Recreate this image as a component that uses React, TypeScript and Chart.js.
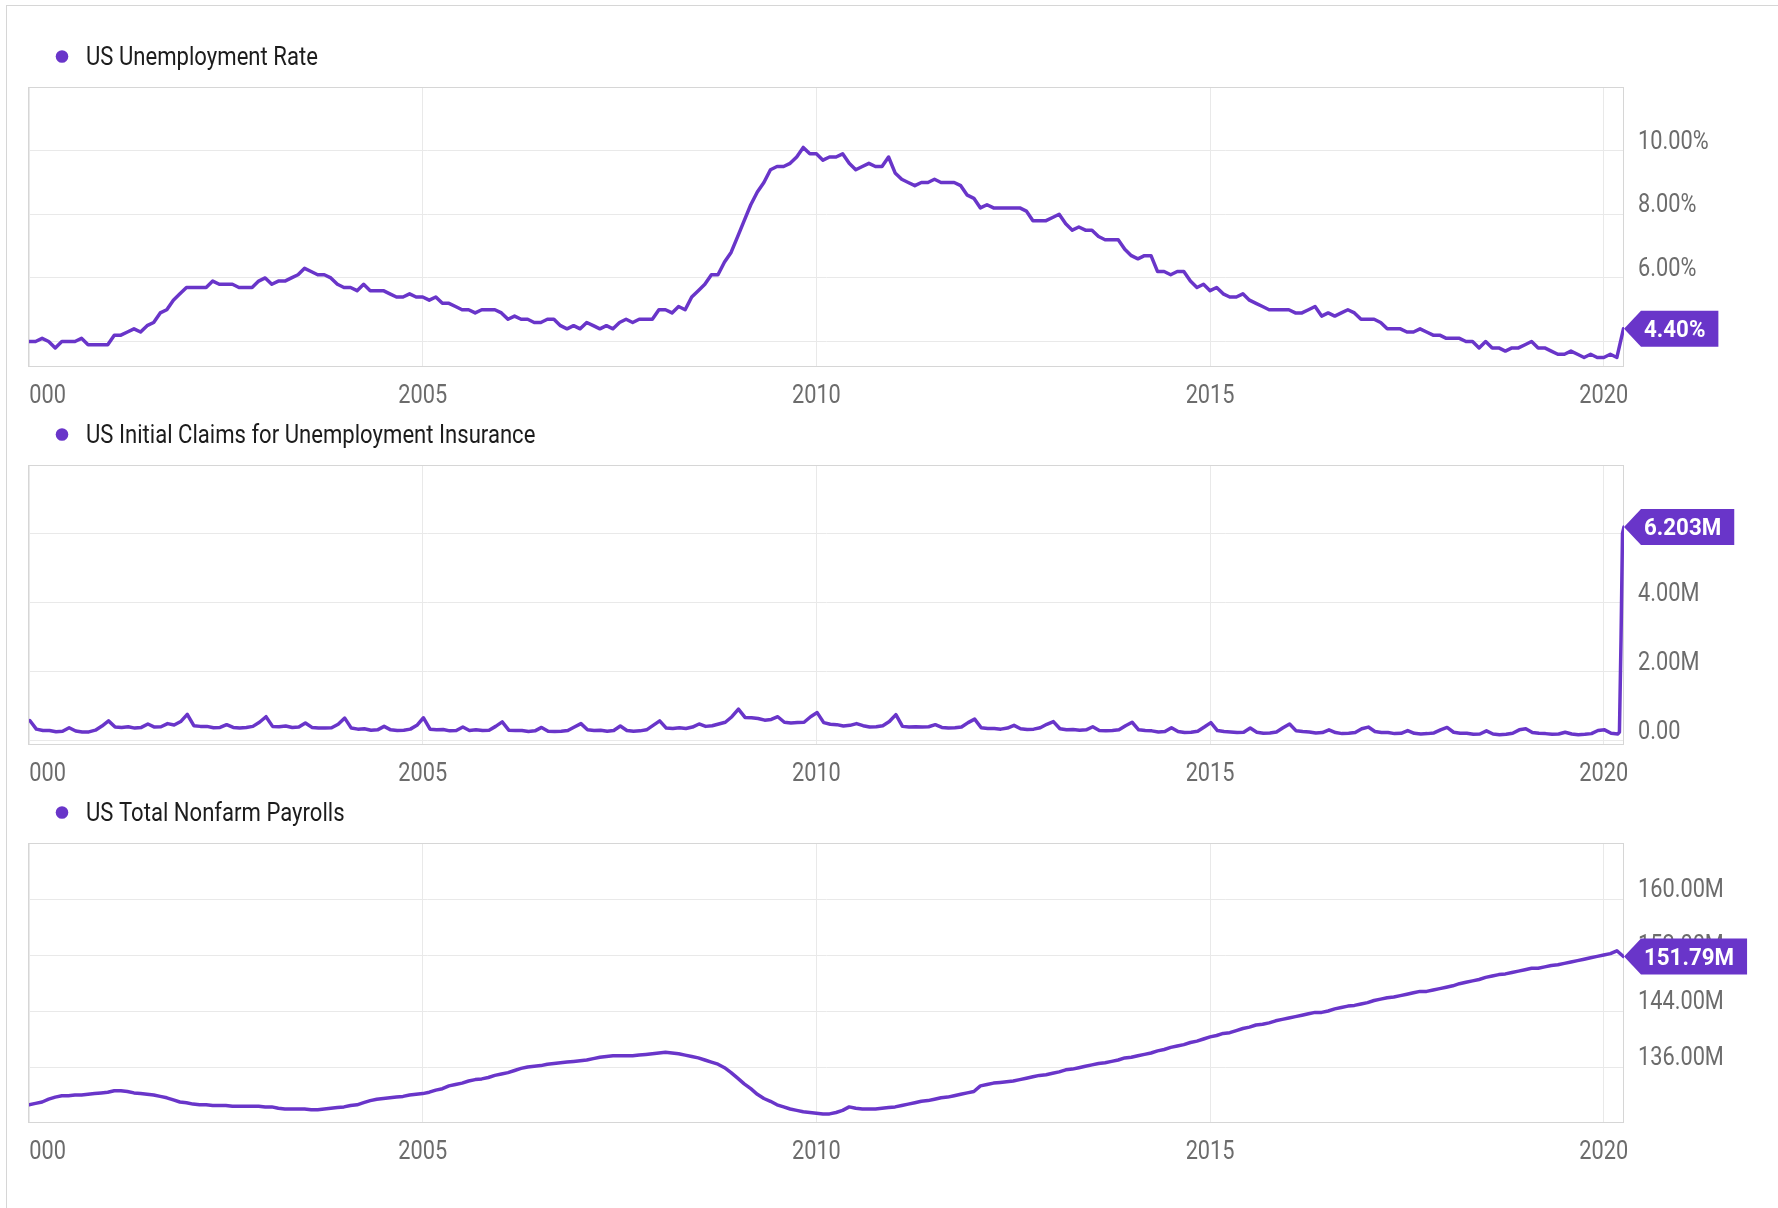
import React, { useEffect, useRef } from "react";
import { Chart, registerables } from "chart.js";

Chart.register(...registerables);

// ---------------- data ----------------
const xTickYears = [2000, 2005, 2010, 2015, 2020];
const xTickLabels = ["2000", "2005", "2010", "2015", "2020"];

const unemploymentName = "US Unemployment Rate";
// monthly, Dec 1999 ... Mar 2020 (%)
const unemploymentRate = [
  4.0,
  4.0, 4.1, 4.0, 3.8, 4.0, 4.0, 4.0, 4.1, 3.9, 3.9, 3.9, 3.9,
  4.2, 4.2, 4.3, 4.4, 4.3, 4.5, 4.6, 4.9, 5.0, 5.3, 5.5, 5.7,
  5.7, 5.7, 5.7, 5.9, 5.8, 5.8, 5.8, 5.7, 5.7, 5.7, 5.9, 6.0,
  5.8, 5.9, 5.9, 6.0, 6.1, 6.3, 6.2, 6.1, 6.1, 6.0, 5.8, 5.7,
  5.7, 5.6, 5.8, 5.6, 5.6, 5.6, 5.5, 5.4, 5.4, 5.5, 5.4, 5.4,
  5.3, 5.4, 5.2, 5.2, 5.1, 5.0, 5.0, 4.9, 5.0, 5.0, 5.0, 4.9,
  4.7, 4.8, 4.7, 4.7, 4.6, 4.6, 4.7, 4.7, 4.5, 4.4, 4.5, 4.4,
  4.6, 4.5, 4.4, 4.5, 4.4, 4.6, 4.7, 4.6, 4.7, 4.7, 4.7, 5.0,
  5.0, 4.9, 5.1, 5.0, 5.4, 5.6, 5.8, 6.1, 6.1, 6.5, 6.8, 7.3,
  7.8, 8.3, 8.7, 9.0, 9.4, 9.5, 9.5, 9.6, 9.8, 10.1, 9.9, 9.9,
  9.7, 9.8, 9.8, 9.9, 9.6, 9.4, 9.5, 9.6, 9.5, 9.5, 9.8, 9.3,
  9.1, 9.0, 8.9, 9.0, 9.0, 9.1, 9.0, 9.0, 9.0, 8.9, 8.6, 8.5,
  8.2, 8.3, 8.2, 8.2, 8.2, 8.2, 8.2, 8.1, 7.8, 7.8, 7.8, 7.9,
  8.0, 7.7, 7.5, 7.6, 7.5, 7.5, 7.3, 7.2, 7.2, 7.2, 6.9, 6.7,
  6.6, 6.7, 6.7, 6.2, 6.2, 6.1, 6.2, 6.2, 5.9, 5.7, 5.8, 5.6,
  5.7, 5.5, 5.4, 5.4, 5.5, 5.3, 5.2, 5.1, 5.0, 5.0, 5.0, 5.0,
  4.9, 4.9, 5.0, 5.1, 4.8, 4.9, 4.8, 4.9, 5.0, 4.9, 4.7, 4.7,
  4.7, 4.6, 4.4, 4.4, 4.4, 4.3, 4.3, 4.4, 4.3, 4.2, 4.2, 4.1,
  4.1, 4.1, 4.0, 4.0, 3.8, 4.0, 3.8, 3.8, 3.7, 3.8, 3.8, 3.9,
  4.0, 3.8, 3.8, 3.7, 3.6, 3.6, 3.7, 3.6, 3.5, 3.6, 3.5, 3.5,
  3.6, 3.5, 4.4,
];
const unemploymentTicks = [4, 6, 8, 10];
const unemploymentTickLabels = ["4.00%", "6.00%", "8.00%", "10.00%"];
const unemploymentLastLabel = "4.40%";
const unemploymentRange = [3.2, 12];

const claimsName = "US Initial Claims for Unemployment Insurance";
// monthly representative weekly level (thousands), Jan 2000 ... Feb 2020
const claimsMonthly = [
  590, 340, 300, 300, 265, 280, 380, 285, 255, 260, 310, 430,
  580, 400, 390, 410, 370, 390, 490, 400, 410, 500, 460, 560,
  770, 440, 420, 420, 380, 390, 470, 390, 370, 390, 420, 540,
  700, 420, 410, 430, 390, 400, 520, 390, 370, 370, 380, 480,
  660, 370, 340, 350, 310, 320, 420, 320, 300, 310, 340, 450,
  670, 340, 320, 330, 290, 300, 400, 300, 320, 300, 310, 420,
  550, 310, 300, 300, 270, 290, 390, 280, 270, 280, 300, 400,
  500, 320, 300, 310, 280, 300, 430, 300, 280, 290, 320, 450,
  580, 370, 360, 380, 360, 400, 490, 420, 440, 490, 540, 700,
  920, 680, 670, 650, 600, 620, 700, 540, 520, 530, 540, 700,
  820, 530, 480, 470, 430, 450, 500, 440, 400, 410, 440, 560,
  760, 420, 400, 410, 400, 410, 470, 390, 370, 380, 400, 530,
  630, 380, 360, 360, 340, 370, 450, 350, 330, 340, 380, 480,
  560, 350, 320, 330, 310, 320, 410, 300, 290, 300, 320, 440,
  540, 320, 300, 290, 260, 270, 380, 270, 240, 250, 280, 400,
  530, 300, 270, 260, 240, 250, 370, 250, 220, 230, 260, 380,
  490, 290, 270, 260, 230, 240, 320, 240, 210, 220, 240, 350,
  400, 270, 240, 240, 210, 220, 300, 220, 200, 210, 230, 320,
  390, 250, 220, 220, 190, 200, 290, 200, 180, 190, 220, 320,
  350, 240, 220, 210, 190, 200, 250, 200, 180, 190, 210, 300,
  320, 220,
];
// final weekly readings, weeks ending Mar 7 ... Apr 4 2020
const claimsFinalWeekDates = [2020.18, 2020.199, 2020.219, 2020.238, 2020.257];
const claimsFinalWeeks = [200, 251, 2920, 6015, 6203];
const claimsTicks = [0, 2, 4, 6];
const claimsTickLabels = ["0.00", "2.00M", "4.00M", "6.00M"];
const claimsLastLabel = "6.203M";
const claimsRange = [-0.12, 8];

const payrollsName = "US Total Nonfarm Payrolls";
// monthly, Dec 1999 ... Mar 2020 (millions)
const payrolls = [
  130.6,
  130.8, 131.0, 131.4, 131.7, 131.9, 131.9, 132.0, 132.0, 132.1, 132.2, 132.3, 132.4,
  132.6, 132.6, 132.5, 132.3, 132.2, 132.1, 132.0, 131.8, 131.6, 131.3, 131.0, 130.9,
  130.7, 130.6, 130.6, 130.5, 130.5, 130.5, 130.4, 130.4, 130.4, 130.4, 130.4, 130.3,
  130.3, 130.1, 130.0, 130.0, 130.0, 130.0, 129.9, 129.9, 130.0, 130.1, 130.2, 130.3,
  130.5, 130.6, 130.9, 131.2, 131.4, 131.5, 131.6, 131.7, 131.8, 132.0, 132.1, 132.2,
  132.4, 132.7, 132.9, 133.3, 133.5, 133.7, 134.0, 134.2, 134.3, 134.5, 134.8, 135.0,
  135.2, 135.5, 135.8, 136.0, 136.1, 136.2, 136.4, 136.5, 136.6, 136.7, 136.8, 136.9,
  137.0, 137.2, 137.4, 137.5, 137.6, 137.6, 137.6, 137.6, 137.7, 137.8, 137.9, 138.0,
  138.1, 138.0, 137.9, 137.7, 137.5, 137.3, 137.0, 136.7, 136.4, 135.9, 135.2, 134.4,
  133.6, 132.9, 132.1, 131.5, 131.1, 130.6, 130.3, 130.0, 129.8, 129.6, 129.5, 129.4,
  129.3, 129.3, 129.5, 129.8, 130.3, 130.1, 130.0, 130.0, 130.0, 130.1, 130.2, 130.3,
  130.5, 130.7, 130.9, 131.1, 131.2, 131.4, 131.6, 131.7, 131.9, 132.1, 132.3, 132.5,
  133.3, 133.5, 133.7, 133.8, 133.9, 134.0, 134.2, 134.4, 134.6, 134.8, 134.9, 135.1,
  135.3, 135.6, 135.7, 135.9, 136.1, 136.3, 136.5, 136.6, 136.8, 137.0, 137.3, 137.4,
  137.6, 137.8, 138.0, 138.3, 138.5, 138.8, 139.0, 139.2, 139.5, 139.7, 140.0, 140.3,
  140.5, 140.8, 140.9, 141.2, 141.5, 141.7, 142.0, 142.1, 142.3, 142.6, 142.8, 143.0,
  143.2, 143.4, 143.6, 143.8, 143.8, 144.0, 144.3, 144.5, 144.7, 144.8, 145.0, 145.2,
  145.5, 145.7, 145.9, 146.0, 146.2, 146.4, 146.6, 146.8, 146.8, 147.0, 147.2, 147.4,
  147.6, 147.9, 148.1, 148.3, 148.5, 148.8, 149.0, 149.2, 149.3, 149.5, 149.7, 149.9,
  150.1, 150.1, 150.3, 150.5, 150.6, 150.8, 151.0, 151.2, 151.4, 151.6, 151.8, 152.0,
  152.2, 152.6, 151.79,
];
const payrollsTicks = [136, 144, 152, 160];
const payrollsTickLabels = ["136.00M", "144.00M", "152.00M", "160.00M"];
const payrollsLastLabel = "151.79M";
const payrollsRange = [128, 168];

// ---------------- styling ----------------
const PURPLE = "#6935c9";
const GRID = "#e9e9e9";
const FRAME = "#d6d6d6";
const FONT = "Roboto, 'Noto Sans', sans-serif";
const SX = 0.87;
const SX_LEGEND = 0.85;
const SX_BADGE = 0.93;
const W = 1778;
const H = 430;
const PLOT_LEFT = 29;
const PLOT_TOP = 87;
const PLOT_RIGHT = 1624;
const PLOT_BOTTOM = 367;

const monthlyX = (n: number) => Array.from({ length: n }, (_, i) => 2000 + i / 12);
const X_MIN = 2000;
const X_MAX = claimsFinalWeekDates[claimsFinalWeekDates.length - 1];

type Spec = {
  name: string;
  xs: number[];
  ys: number[];
  range: number[];
  ticks: number[];
  tickLabels: string[];
  lastLabel: string;
};

const specs: Spec[] = [
  {
    name: unemploymentName,
    xs: monthlyX(unemploymentRate.length),
    ys: unemploymentRate,
    range: unemploymentRange,
    ticks: unemploymentTicks,
    tickLabels: unemploymentTickLabels,
    lastLabel: unemploymentLastLabel,
  },
  {
    name: claimsName,
    xs: [...claimsMonthly.map((_, i) => 2000 + i / 12 + 0.01), ...claimsFinalWeekDates],
    ys: [...claimsMonthly, ...claimsFinalWeeks].map((v) => v / 1000),
    range: claimsRange,
    ticks: claimsTicks,
    tickLabels: claimsTickLabels,
    lastLabel: claimsLastLabel,
  },
  {
    name: payrollsName,
    xs: monthlyX(payrolls.length),
    ys: payrolls,
    range: payrollsRange,
    ticks: payrollsTicks,
    tickLabels: payrollsTickLabels,
    lastLabel: payrollsLastLabel,
  },
];

function drawText(
  ctx: CanvasRenderingContext2D,
  text: string,
  x: number,
  y: number,
  font: string,
  color: string,
  align: "left" | "center",
  sx = SX
) {
  ctx.save();
  ctx.font = font;
  ctx.fillStyle = color;
  ctx.textBaseline = "alphabetic";
  ctx.textAlign = "left";
  const w = ctx.measureText(text).width * sx;
  const left = align === "center" ? x - w / 2 : x;
  ctx.translate(left, y);
  ctx.scale(sx, 1);
  ctx.fillText(text, 0, 0);
  ctx.restore();
  return w;
}

function decor(spec: Spec) {
  return {
    id: "decor",
    beforeDatasetsDraw(chart: any) {
      const { ctx, chartArea: a } = chart;
      ctx.save();
      ctx.strokeStyle = FRAME;
      ctx.lineWidth = 1;
      const x1 = a.left - 0.5, x2 = a.right - 0.5, y1 = a.top + 0.5, y2 = a.bottom - 0.5;
      ctx.strokeRect(x1, y1, x2 - x1, y2 - y1);
      ctx.restore();
    },
    afterDraw(chart: any) {
      const { ctx, chartArea: a, scales } = chart;
      const xs = scales.x;
      const ys = scales.y;
      // legend
      ctx.save();
      ctx.fillStyle = PURPLE;
      ctx.beginPath();
      ctx.arc(62, a.top - 30.5, 6.3, 0, Math.PI * 2);
      ctx.fill();
      ctx.restore();
      drawText(ctx, spec.name, 86, a.top - 22, `26px ${FONT}`, "#1c1c1c", "left", SX_LEGEND);
      // x labels
      xTickYears.forEach((v, i) => {
        const px = xs.getPixelForValue(v);
        ctx.save();
        ctx.beginPath();
        ctx.rect(a.left, 0, chart.width - a.left, chart.height);
        ctx.clip();
        drawText(ctx, xTickLabels[i], i === 0 ? px + 12.5 : px, a.bottom + 36, `25px ${FONT}`, "#6c6c6c", "center");
        ctx.restore();
      });
      // y labels
      spec.ticks.forEach((v, i) => {
        const py = ys.getPixelForValue(v);
        drawText(ctx, spec.tickLabels[i], a.right + 14, py - 2, `25px ${FONT}`, "#6c6c6c", "left");
      });
      // last value badge
      const lastY = ys.getPixelForValue(spec.ys[spec.ys.length - 1]);
      const tipX = a.right;
      const bf = `bold 24px ${FONT}`;
      ctx.save();
      ctx.font = bf;
      const tw = ctx.measureText(spec.lastLabel).width * SX_BADGE;
      ctx.restore();
      const bodyL = tipX + 17;
      const bodyR = tipX + 20 + tw + 13;
      ctx.save();
      ctx.fillStyle = PURPLE;
      ctx.beginPath();
      ctx.moveTo(tipX, lastY);
      ctx.lineTo(bodyL, lastY - 18);
      ctx.lineTo(bodyR, lastY - 18);
      ctx.lineTo(bodyR, lastY + 18);
      ctx.lineTo(bodyL, lastY + 18);
      ctx.closePath();
      ctx.fill();
      ctx.restore();
      drawText(ctx, spec.lastLabel, tipX + 20, lastY + 8.5, bf, "#ffffff", "left", SX_BADGE);
    },
  };
}

function Panel({ spec, top }: { spec: Spec; top: number }) {
  const ref = useRef<HTMLCanvasElement>(null);
  useEffect(() => {
    const canvas = ref.current;
    if (!canvas) return;
    const chart = new Chart(canvas, {
      type: "line",
      data: {
        datasets: [
          {
            data: spec.xs.map((x, i) => ({ x, y: spec.ys[i] })),
            borderColor: PURPLE,
            borderWidth: 3.5,
            pointRadius: 0,
            tension: 0,
            fill: false,
            borderJoinStyle: "round",
            borderCapStyle: "round",
          },
        ],
      },
      options: {
        responsive: false,
        maintainAspectRatio: false,
        animation: false,
        devicePixelRatio: 1,
        events: [],
        layout: { padding: { left: PLOT_LEFT, top: PLOT_TOP, right: 0, bottom: 0 } },
        plugins: { legend: { display: false }, tooltip: { enabled: false } },
        scales: {
          x: {
            type: "linear",
            position: "bottom",
            min: X_MIN,
            max: X_MAX,
            afterBuildTicks: (s: any) => {
              s.ticks = xTickYears.map((v) => ({ value: v }));
            },
            afterFit: (s: any) => {
              s.height = H - PLOT_BOTTOM;
            },
            ticks: { display: false },
            grid: { color: GRID, drawTicks: false, lineWidth: 1 },
            border: { display: false },
          },
          y: {
            type: "linear",
            position: "right",
            min: spec.range[0],
            max: spec.range[1],
            afterBuildTicks: (s: any) => {
              s.ticks = spec.ticks.map((v) => ({ value: v }));
            },
            afterFit: (s: any) => {
              s.width = W - PLOT_RIGHT;
            },
            ticks: { display: false },
            grid: { color: GRID, drawTicks: false, lineWidth: 1 },
            border: { display: false },
          },
        },
      } as any,
      plugins: [decor(spec)],
    });
    return () => chart.destroy();
  }, [spec]);
  return (
    <canvas
      ref={ref}
      width={W}
      height={H}
      style={{ position: "absolute", left: 0, top, width: W, height: H, display: "block" }}
    />
  );
}

export default function App() {
  return (
    <div
      style={{
        position: "absolute",
        left: 0,
        top: 0,
        width: 1778,
        height: 1208,
        overflow: "hidden",
        background: "#ffffff",
      }}
    >
      <div
        style={{
          position: "absolute",
          left: 6,
          top: 5,
          width: 2000,
          height: 2000,
          borderLeft: `1px solid ${FRAME}`,
          borderTop: `1px solid ${FRAME}`,
        }}
      />
      <Panel spec={specs[0]} top={0} />
      <Panel spec={specs[1]} top={378} />
      <Panel spec={specs[2]} top={756} />
    </div>
  );
}
